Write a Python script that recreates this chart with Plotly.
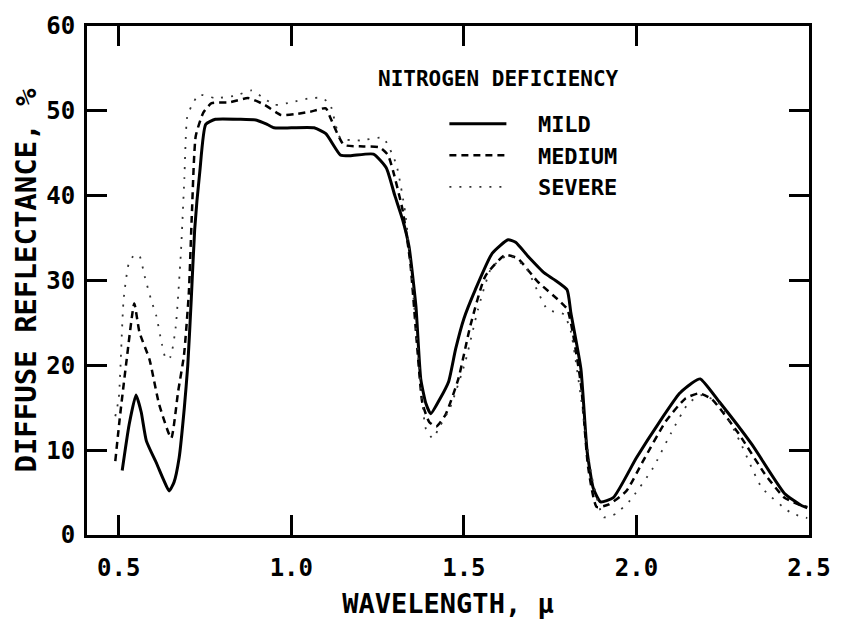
import plotly.graph_objects as go

# ---- data ----
mild_x = [0.51, 0.53, 0.55, 0.565, 0.58, 0.61, 0.63, 0.646, 0.66, 0.675, 0.69, 0.70, 0.71, 0.72,
          0.735, 0.752, 0.78, 0.85, 0.90, 0.93, 0.95, 1.0, 1.066, 1.10, 1.142, 1.17, 1.238, 1.275,
          1.30, 1.323, 1.341, 1.361, 1.375, 1.39, 1.404, 1.43, 1.456, 1.476, 1.50, 1.533, 1.582,
          1.628, 1.65, 1.685, 1.733, 1.762, 1.799, 1.81, 1.839, 1.857, 1.875, 1.896, 1.933, 2.0,
          2.068, 2.125, 2.16, 2.185, 2.24, 2.334, 2.429, 2.477, 2.495]
mild_y = [7.6, 13.0, 16.5, 14.5, 11.1, 8.4, 6.5, 5.2, 6.2, 9.1, 15.0, 20.0, 27.7, 36.0,
          42.9, 48.4, 49.0, 49.0, 48.9, 48.4, 48.0, 48.0, 48.0, 47.3, 44.8, 44.7, 44.9, 43.3,
          40.0, 37.1, 34.0, 27.0, 18.4, 15.5, 14.3, 16.0, 18.1, 21.9, 25.5, 28.9, 33.2,
          34.8, 34.5, 32.9, 30.9, 30.1, 28.9, 26.2, 19.6, 9.9, 5.5, 3.9, 4.4, 9.1,
          13.4, 16.7, 17.9, 18.4, 15.7, 10.7, 4.9, 3.5, 3.2]

medium_x = [0.49, 0.503, 0.523, 0.545, 0.56, 0.589, 0.617, 0.652, 0.672, 0.689, 0.703, 0.712,
            0.723, 0.745, 0.769, 0.82, 0.875, 0.923, 0.97, 1.01, 1.055, 1.10, 1.113, 1.152,
            1.209, 1.256, 1.28, 1.295, 1.323, 1.345, 1.365, 1.38, 1.40, 1.42, 1.447, 1.484,
            1.519, 1.562, 1.619, 1.656, 1.713, 1.782, 1.80, 1.815, 1.84, 1.86, 1.885, 1.92,
            1.971, 2.019, 2.085, 2.142, 2.182, 2.219, 2.297, 2.372, 2.429, 2.477, 2.495]
medium_y = [8.7, 13.8, 20.7, 27.3, 23.9, 20.7, 15.4, 11.4, 16.9, 21.2, 28.5, 38.0,
            47.0, 49.8, 50.9, 51.0, 51.5, 50.7, 49.5, 49.6, 49.9, 50.3, 49.2, 46.0,
            45.8, 45.7, 44.8, 42.9, 38.2, 32.0, 22.0, 15.5, 13.3, 12.8, 14.2, 18.4,
            24.7, 30.5, 33.0, 32.6, 29.9, 27.4, 26.6, 24.0, 17.5, 8.0, 3.3, 3.6,
            5.2, 8.7, 13.4, 16.1, 16.7, 16.0, 11.9, 7.2, 4.4, 3.5, 3.3]

severe_x = [0.49, 0.50, 0.514, 0.529, 0.545, 0.56, 0.575, 0.594, 0.609, 0.625, 0.637, 0.65,
            0.665, 0.68, 0.69, 0.698, 0.71, 0.732, 0.78, 0.84, 0.884, 0.92, 0.952, 1.0,
            1.055, 1.09, 1.113, 1.142, 1.20, 1.266, 1.304, 1.33, 1.35, 1.37, 1.39, 1.41,
            1.43, 1.46, 1.504, 1.541, 1.58, 1.63, 1.68, 1.742, 1.79, 1.81, 1.84, 1.87,
            1.905, 1.94, 1.982, 2.048, 2.10, 2.15, 2.19, 2.24, 2.30, 2.363, 2.448, 2.495]
severe_y = [14.0, 16.1, 27.7, 32.0, 33.0, 32.9, 30.5, 27.7, 25.8, 22.5, 20.7, 21.0,
            24.5, 33.2, 42.0, 49.2, 50.5, 51.9, 51.5, 51.8, 52.4, 51.5, 50.7, 51.0,
            51.5, 51.5, 50.7, 46.8, 46.5, 46.8, 43.7, 38.0, 30.0, 20.0, 12.5, 11.4,
            12.8, 15.0, 20.4, 26.6, 31.5, 33.0, 31.5, 26.6, 26.0, 24.0, 16.0, 7.0,
            2.1, 2.5, 4.1, 7.9, 12.0, 15.5, 16.5, 15.5, 11.0, 5.6, 2.6, 2.0]

series_names = ["MILD", "MEDIUM", "SEVERE"]
x_ticks = [0.5, 1.0, 1.5, 2.0, 2.5]
x_ticklabels = ["0.5", "1.0", "1.5", "2.0", "2.5"]
y_ticks = [0, 10, 20, 30, 40, 50, 60]
legend_title = "NITROGEN DEFICIENCY"
x_title = "WAVELENGTH, \u00b5"
y_title = "DIFFUSE REFLECTANCE, %"

FONT = "DejaVu Sans Mono"
NB = "\u00a0"

fig = go.Figure()
fig.add_trace(go.Scatter(x=mild_x, y=mild_y, mode="lines", name=NB * 2 + series_names[0],
                         line=dict(color="black", width=3, shape="spline", smoothing=0.5)))
fig.add_trace(go.Scatter(x=medium_x, y=medium_y, mode="lines", name=NB * 2 + series_names[1],
                         line=dict(color="black", width=2.5, dash="7px,5px", shape="spline", smoothing=0.5)))
fig.add_trace(go.Scatter(x=severe_x, y=severe_y, mode="lines", name=NB * 2 + series_names[2],
                         line=dict(color="#333", width=1.8, dash="2px,8px", shape="spline", smoothing=0.5)))

axis_common = dict(showline=True, linecolor="black", linewidth=3, mirror="allticks",
                   ticks="inside", ticklen=20, tickwidth=2.5, tickcolor="black",
                   showgrid=False, zeroline=False,
                   tickfont=dict(family=FONT, size=24, color="black", weight="bold"))

fig.update_xaxes(range=[0.408, 2.5], tickvals=x_ticks, ticktext=x_ticklabels,
                 ticklabelstandoff=9,
                 title=dict(text=x_title, font=dict(family=FONT, size=27, color="black", weight="bold"),
                            standoff=14),
                 **axis_common)
fig.update_yaxes(range=[0, 60], tickvals=y_ticks, ticklabelstandoff=4,
                 title=dict(text=y_title, font=dict(family=FONT, size=29, color="black", weight="bold"),
                            standoff=2),
                 **axis_common)

fig.add_annotation(text=legend_title, xref="paper", yref="paper", x=0.40, y=0.895,
                   xanchor="left", yanchor="middle", showarrow=False,
                   font=dict(family=FONT, size=21, color="black", weight="bold"))

fig.update_layout(
    width=843, height=632,
    margin=dict(l=87, r=25, t=20, b=97),
    paper_bgcolor="white", plot_bgcolor="white",
    showlegend=True,
    legend=dict(x=0.495, y=0.849, xanchor="left", yanchor="top", itemwidth=57,
                bgcolor="rgba(0,0,0,0)", tracegroupgap=0,
                font=dict(family=FONT, size=22, color="black", weight="bold")),
)

fig.write_html("out.html")
